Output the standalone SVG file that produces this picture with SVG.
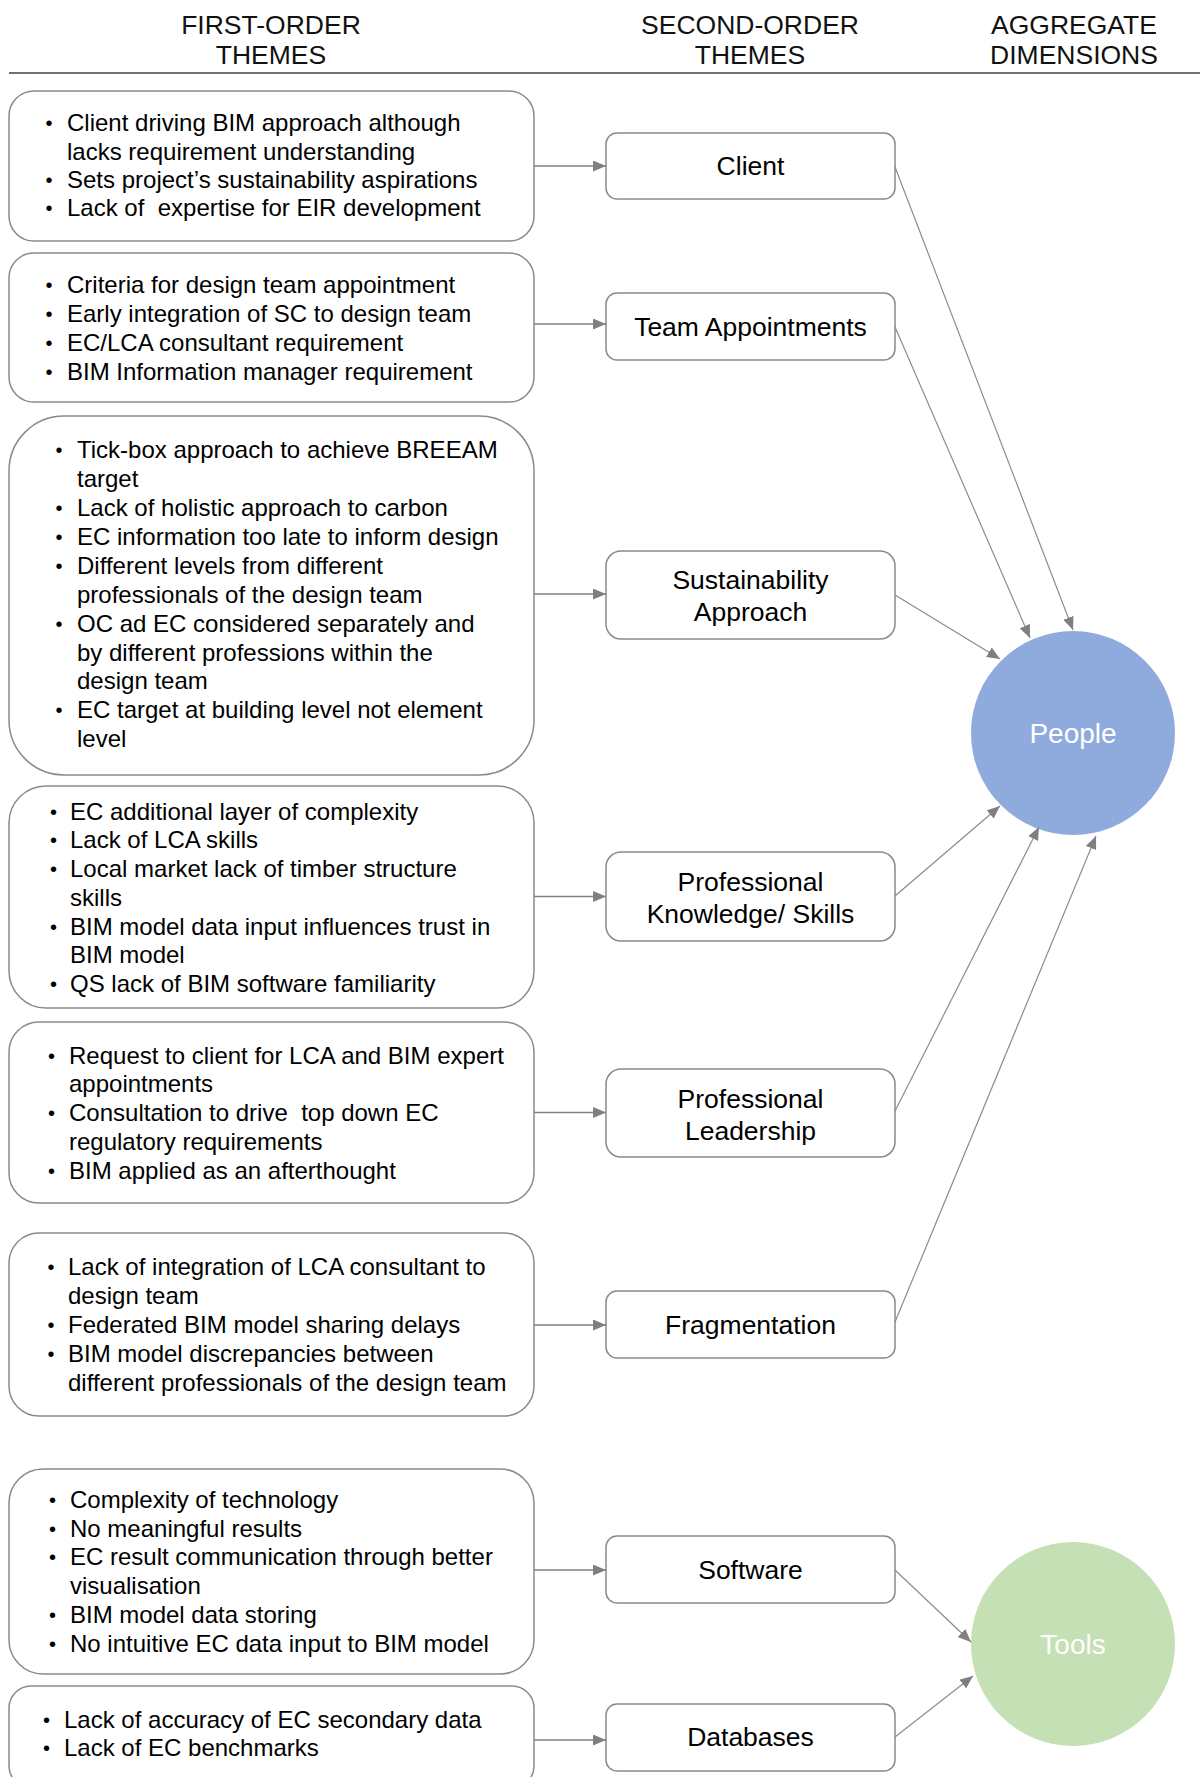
<svg xmlns="http://www.w3.org/2000/svg" width="1200" height="1777" viewBox="0 0 1200 1777">
  <defs>
    <marker id="arrow" markerUnits="userSpaceOnUse" markerWidth="14" markerHeight="11" refX="13" refY="5.5" orient="auto">
      <path d="M0,0 L13,5.5 L0,11 z" fill="#7f7f7f"/>
    </marker>
  </defs>
  <style>
    .hdr{font-family:"Liberation Sans",Arial,sans-serif;font-size:26.5px;fill:#111;text-anchor:middle}
    .box{fill:#fff;stroke:#8a8a8a;stroke-width:1.5}
    .t1{font-family:"Liberation Sans",Arial,sans-serif;font-size:24px;fill:#000}
    .bul{font-family:"Liberation Sans",Arial,sans-serif;font-size:20px;fill:#000}
    .t2{font-family:"Liberation Sans",Arial,sans-serif;font-size:26.5px;fill:#000;text-anchor:middle}
    .agg{font-family:"Liberation Sans",Arial,sans-serif;font-size:28px;fill:#fff;text-anchor:middle}
    .conn{stroke:#808080;stroke-width:1.5;fill:none;marker-end:url(#arrow)}
    .diag{stroke:#8c8c8c;stroke-width:1.2}
  </style>

  <rect x="0" y="0" width="1200" height="1777" fill="#fff"/>

  <!-- column headings -->
  <g id="headings">
    <text class="hdr" x="271" y="34">FIRST-ORDER</text>
    <text class="hdr" x="271" y="64">THEMES</text>
    <text class="hdr" x="750" y="34">SECOND-ORDER</text>
    <text class="hdr" x="750" y="64">THEMES</text>
    <text class="hdr" x="1074" y="34">AGGREGATE</text>
    <text class="hdr" x="1074" y="64">DIMENSIONS</text>
    <line x1="9" y1="73" x2="1200" y2="73" stroke="#404040" stroke-width="1.6"/>
  </g>

  <!-- first-order themes -->
  <g id="fo-client">
    <rect class="box" x="9" y="91" width="525" height="150" rx="25"/>
    <text class="bul"><tspan x="45.5" y="130">•</tspan><tspan x="45.5" y="187">•</tspan><tspan x="45.5" y="215">•</tspan></text>
    <text class="t1">
      <tspan x="67" y="131">Client driving BIM approach although</tspan>
      <tspan x="67" y="159.5">lacks requirement understanding</tspan>
      <tspan x="67" y="188">Sets project’s sustainability aspirations</tspan>
      <tspan x="67" y="216">Lack of&#160; expertise for EIR development</tspan>
    </text>
  </g>

  <g id="fo-team">
    <rect class="box" x="9" y="253" width="525" height="149" rx="25"/>
    <text class="bul"><tspan x="45.5" y="291.5">•</tspan><tspan x="45.5" y="320.5">•</tspan><tspan x="45.5" y="349.5">•</tspan><tspan x="45.5" y="378.5">•</tspan></text>
    <text class="t1">
      <tspan x="67" y="292.5">Criteria for design team appointment</tspan>
      <tspan x="67" y="321.5">Early integration of SC to design team</tspan>
      <tspan x="67" y="350.5">EC/LCA consultant requirement</tspan>
      <tspan x="67" y="379.5">BIM Information manager requirement</tspan>
    </text>
  </g>

  <g id="fo-sustainability">
    <rect class="box" x="9" y="416" width="525" height="359" rx="55"/>
    <text class="bul"><tspan x="55.5" y="457">•</tspan><tspan x="55.5" y="515">•</tspan><tspan x="55.5" y="544">•</tspan><tspan x="55.5" y="573">•</tspan><tspan x="55.5" y="631">•</tspan><tspan x="55.5" y="717">•</tspan></text>
    <text class="t1">
      <tspan x="77" y="458">Tick-box approach to achieve BREEAM</tspan>
      <tspan x="77" y="487">target</tspan>
      <tspan x="77" y="516">Lack of holistic approach to carbon</tspan>
      <tspan x="77" y="545">EC information too late to inform design</tspan>
      <tspan x="77" y="574">Different levels from different</tspan>
      <tspan x="77" y="603">professionals of the design team</tspan>
      <tspan x="77" y="632">OC ad EC considered separately and</tspan>
      <tspan x="77" y="660.5">by different professions within the</tspan>
      <tspan x="77" y="689">design team</tspan>
      <tspan x="77" y="718">EC target at building level not element</tspan>
      <tspan x="77" y="747">level</tspan>
    </text>
  </g>

  <g id="fo-knowledge">
    <rect class="box" x="9" y="786" width="525" height="222" rx="37"/>
    <text class="bul"><tspan x="50" y="818.5">•</tspan><tspan x="50" y="847">•</tspan><tspan x="50" y="876">•</tspan><tspan x="50" y="933.5">•</tspan><tspan x="50" y="991">•</tspan></text>
    <text class="t1">
      <tspan x="70" y="819.5">EC additional layer of complexity</tspan>
      <tspan x="70" y="848">Lack of LCA skills</tspan>
      <tspan x="70" y="877">Local market lack of timber structure</tspan>
      <tspan x="70" y="905.5">skills</tspan>
      <tspan x="70" y="934.5">BIM model data input influences trust in</tspan>
      <tspan x="70" y="963">BIM model</tspan>
      <tspan x="70" y="992">QS lack of BIM software familiarity</tspan>
    </text>
  </g>

  <g id="fo-leadership">
    <rect class="box" x="9" y="1022" width="525" height="181" rx="30"/>
    <text class="bul"><tspan x="48" y="1062.5">•</tspan><tspan x="48" y="1120">•</tspan><tspan x="48" y="1177.5">•</tspan></text>
    <text class="t1">
      <tspan x="69" y="1063.5">Request to client for LCA and BIM expert</tspan>
      <tspan x="69" y="1092">appointments</tspan>
      <tspan x="69" y="1121">Consultation to drive&#160; top down EC</tspan>
      <tspan x="69" y="1150">regulatory requirements</tspan>
      <tspan x="69" y="1178.5">BIM applied as an afterthought</tspan>
    </text>
  </g>

  <g id="fo-fragmentation">
    <rect class="box" x="9" y="1233" width="525" height="183" rx="30"/>
    <text class="bul"><tspan x="47.5" y="1274">•</tspan><tspan x="47.5" y="1332">•</tspan><tspan x="47.5" y="1361">•</tspan></text>
    <text class="t1">
      <tspan x="68" y="1275">Lack of integration of LCA consultant to</tspan>
      <tspan x="68" y="1304">design team</tspan>
      <tspan x="68" y="1333">Federated BIM model sharing delays</tspan>
      <tspan x="68" y="1362">BIM model discrepancies between</tspan>
      <tspan x="68" y="1391">different professionals of the design team</tspan>
    </text>
  </g>

  <g id="fo-software">
    <rect class="box" x="9" y="1469" width="525" height="205" rx="34"/>
    <text class="bul"><tspan x="49" y="1507">•</tspan><tspan x="49" y="1536">•</tspan><tspan x="49" y="1564">•</tspan><tspan x="49" y="1622">•</tspan><tspan x="49" y="1651">•</tspan></text>
    <text class="t1">
      <tspan x="70" y="1508">Complexity of technology</tspan>
      <tspan x="70" y="1537">No meaningful results</tspan>
      <tspan x="70" y="1565">EC result communication through better</tspan>
      <tspan x="70" y="1594">visualisation</tspan>
      <tspan x="70" y="1623">BIM model data storing</tspan>
      <tspan x="70" y="1652">No intuitive EC data input to BIM model</tspan>
    </text>
  </g>

  <g id="fo-databases">
    <rect class="box" x="9" y="1686" width="525" height="102" rx="22"/>
    <text class="bul"><tspan x="43" y="1727">•</tspan><tspan x="43" y="1755">•</tspan></text>
    <text class="t1">
      <tspan x="64" y="1728">Lack of accuracy of EC secondary data</tspan>
      <tspan x="64" y="1756">Lack of EC benchmarks</tspan>
    </text>
  </g>

  <!-- second-order themes -->
  <g id="so-client">
    <rect class="box" x="606" y="133" width="289" height="66" rx="11"/>
    <text class="t2" x="750.5" y="175">Client</text>
  </g>
  <g id="so-team">
    <rect class="box" x="606" y="293" width="289" height="67" rx="11"/>
    <text class="t2" x="750.5" y="336">Team Appointments</text>
  </g>
  <g id="so-sustainability">
    <rect class="box" x="606" y="551" width="289" height="88" rx="15"/>
    <text class="t2"><tspan x="750.5" y="589">Sustainability</tspan><tspan x="750.5" y="621">Approach</tspan></text>
  </g>
  <g id="so-knowledge">
    <rect class="box" x="606" y="852" width="289" height="89" rx="15"/>
    <text class="t2"><tspan x="750.5" y="891">Professional</tspan><tspan x="750.5" y="923">Knowledge/ Skills</tspan></text>
  </g>
  <g id="so-leadership">
    <rect class="box" x="606" y="1069" width="289" height="88" rx="15"/>
    <text class="t2"><tspan x="750.5" y="1108">Professional</tspan><tspan x="750.5" y="1140">Leadership</tspan></text>
  </g>
  <g id="so-fragmentation">
    <rect class="box" x="606" y="1291" width="289" height="67" rx="11"/>
    <text class="t2" x="750.5" y="1334">Fragmentation</text>
  </g>
  <g id="so-software">
    <rect class="box" x="606" y="1536" width="289" height="67" rx="11"/>
    <text class="t2" x="750.5" y="1579">Software</text>
  </g>
  <g id="so-databases">
    <rect class="box" x="606" y="1704" width="289" height="67" rx="11"/>
    <text class="t2" x="750.5" y="1746">Databases</text>
  </g>

  <!-- aggregate dimensions -->
  <g id="agg-people">
    <circle cx="1073" cy="733" r="102" fill="#8faadc"/>
    <text class="agg" x="1073" y="743">People</text>
  </g>
  <g id="agg-tools">
    <circle cx="1073" cy="1644" r="102" fill="#c5e0b4"/>
    <text class="agg" x="1073" y="1654">Tools</text>
  </g>

  <!-- connectors -->
  <g id="connectors">
    <line class="conn" x1="534" y1="166" x2="606" y2="166"/>
    <line class="conn" x1="534" y1="324" x2="606" y2="324"/>
    <line class="conn" x1="534" y1="594" x2="606" y2="594"/>
    <line class="conn" x1="534" y1="896.5" x2="606" y2="896.5"/>
    <line class="conn" x1="534" y1="1112.5" x2="606" y2="1112.5"/>
    <line class="conn" x1="534" y1="1325" x2="606" y2="1325"/>
    <line class="conn" x1="534" y1="1570" x2="606" y2="1570"/>
    <line class="conn" x1="534" y1="1740" x2="606" y2="1740"/>

    <line class="conn diag" x1="895" y1="167" x2="1073" y2="630"/>
    <line class="conn diag" x1="895" y1="327" x2="1030" y2="638"/>
    <line class="conn diag" x1="895" y1="595" x2="1000" y2="659"/>
    <line class="conn diag" x1="895" y1="896" x2="1000" y2="806"/>
    <line class="conn diag" x1="895" y1="1111" x2="1039" y2="827"/>
    <line class="conn diag" x1="895" y1="1322" x2="1096" y2="836"/>
    <line class="conn diag" x1="895" y1="1570" x2="971" y2="1642"/>
    <line class="conn diag" x1="895" y1="1737" x2="973" y2="1676"/>
  </g>
</svg>
